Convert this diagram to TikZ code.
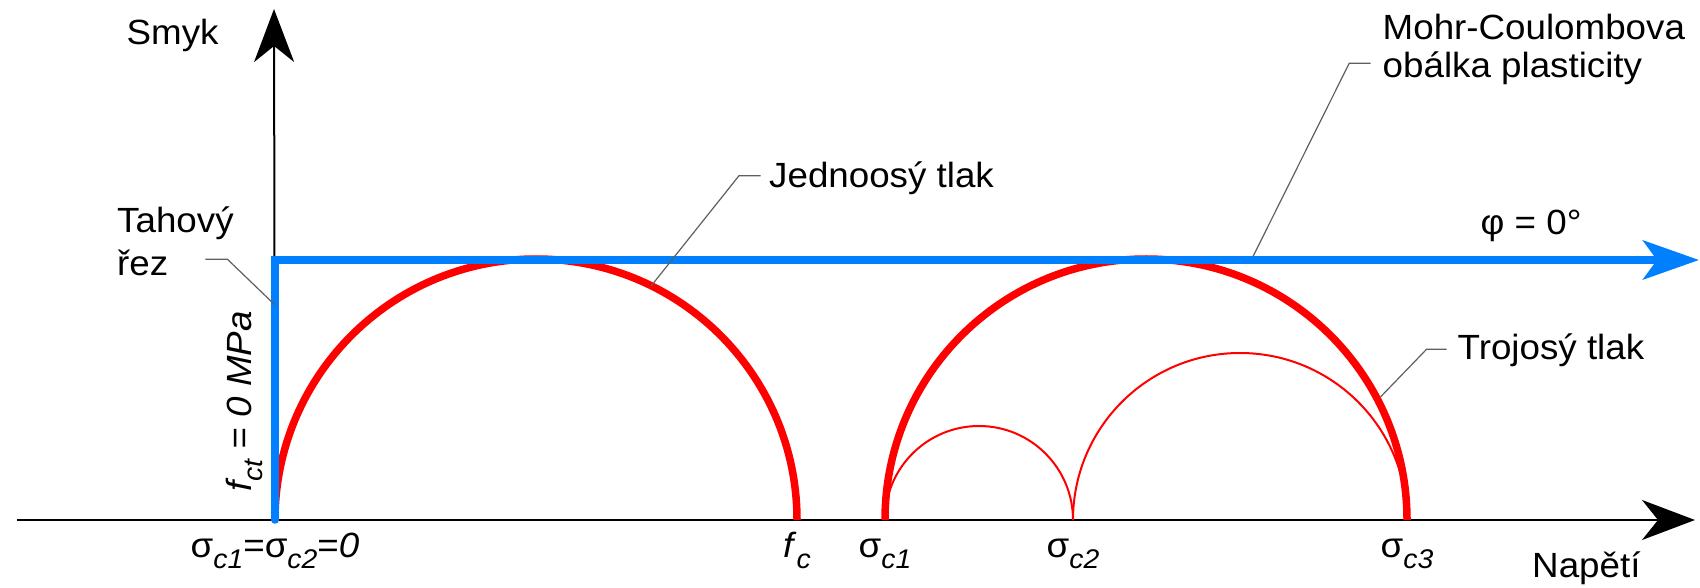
\documentclass[tikz,border=0pt]{standalone}
\usepackage{fontspec}
\setmainfont{Liberation Sans}[FakeStretch=1.05]
\usetikzlibrary{arrows.meta,calc}
\definecolor{mcred}{RGB}{255,0,0}
\definecolor{mcblue}{RGB}{0,128,255}
\definecolor{leadgray}{RGB}{95,95,95}
\newcommand\sbs[1]{\raisebox{-0.32em}{\fontsize{27}{27}\selectfont\itshape #1}}
\begin{document}
\begin{tikzpicture}[x=1pt,y=1pt, font=\fontsize{35}{42}\selectfont,
  axis/.style={line width=2pt, black},
  axtip/.style={-{Stealth[length=53pt,width=40pt,inset=16pt]}},
  thickred/.style={mcred, line width=7.5pt},
  thinred/.style={mcred, line width=2pt},
  envelope/.style={mcblue, line width=7.5pt, line cap=round, -{Stealth[length=56pt,width=39pt,inset=14pt,sharp]}},
  leader/.style={leadgray, line width=1.2pt},
  lbl/.style={inner sep=0pt, anchor=base west},
  tick/.style={inner sep=0pt, anchor=base}]
\useasboundingbox (0,0) rectangle (1700,587);

% key points
\coordinate (O) at (275,67);
\coordinate (xstart) at (17,67);
\coordinate (xend) at (1695,67);
\coordinate (ytop) at (274,578);
\coordinate (fc) at (797,67);
\coordinate (s1) at (885,67);
\coordinate (s2) at (1073,67);
\coordinate (s3) at (1407,67);
\coordinate (c1) at (536,67);
\coordinate (c2) at (1146,67);
\coordinate (corner) at (275,327);
\coordinate (envend) at (1699,327);

% axes
\draw[axis, axtip] (xstart) -- (xend);
\draw[axis, axtip] (O) -- (ytop);

% Mohr circles
\draw[thickred] (O) arc[start angle=180,end angle=0,radius=261pt];
\draw[thickred] (s1) arc[start angle=180,end angle=0,radius=261pt];
\draw[thinred] (s1) arc[start angle=180,end angle=0,radius=94pt];
\draw[thinred] (s2) arc[start angle=180,end angle=0,radius=167pt];

% envelope
\draw[envelope] (O) -- (corner) -- (envend);

% labels
\node[lbl] (smyk) at (126.5,542.7) {Smyk};
\node[lbl] (tah1) at (117,354.3) {Tahový};
\node[lbl] (tah2) at (117,311) {řez};
\node[lbl] (jed) at (769,399.3) {Jednoosý tlak};
\node[lbl] (mohr1) at (1382.5,547) {Mohr-Coulombova};
\node[lbl] (mohr2) at (1382.5,509) {obálka plasticity};
\node[lbl] (phi) at (1480.5,352.7) {φ = 0°};
\node[lbl] (troj) at (1457.5,227) {Trojosý tlak};
\node[lbl] (nap) at (1532,10) {Napětí};
\node[inner sep=0pt, rotate=90, anchor=base west] (fct) at (251,95.3) {\itshape f\sbs{ct} = 0 MPa};

\node[tick] (l0) at ([yshift=-37pt]O) {σ\sbs{c1}=σ\sbs{c2}=\textit{0}};
\node[tick] (lfc) at ([yshift=-37pt]fc) {\textit{f}\sbs{c}};
\node[tick] (ls1) at ([yshift=-37pt]s1) {σ\sbs{c1}};
\node[tick] (ls2) at ([yshift=-37pt]s2) {σ\sbs{c2}};
\node[tick] (ls3) at ([yshift=-37pt]s3) {σ\sbs{c3}};

% leaders
\coordinate (tahA) at ($(tah2.base east)+(37,16.7)$);
\coordinate (tahB) at (275,282);
\draw[leader] (tahA) -- ++(22,0) -- (tahB);

\coordinate (jedA) at ($(jed.base west)+(-8.5,12)$);
\coordinate (jedB) at ($(c1)+(63.8:261)$);
\draw[leader] (jedA) -- ++(-21.5,0) -- (jedB);

\coordinate (mohrA) at ($(mohr2.base west)+(-12,14.7)$);
\coordinate (mohrB) at (1253,330.5);
\draw[leader] (mohrA) -- ++(-21.3,0) -- (mohrB);

\coordinate (trojA) at ($(troj.base west)+(-11,10.7)$);
\coordinate (trojB) at ($(c2)+(27.7:265)$);
\draw[leader] (trojA) -- ++(-20,0) -- (trojB);
\end{tikzpicture}
\end{document}
